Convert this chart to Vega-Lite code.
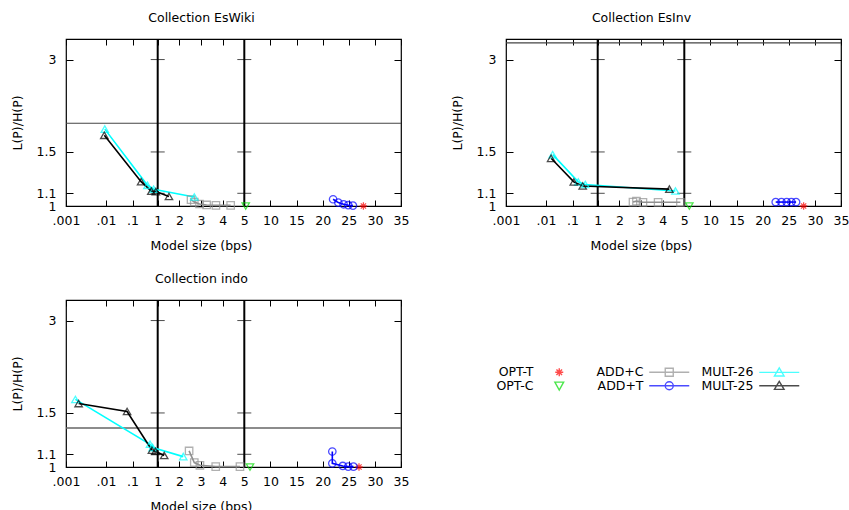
{
  "$schema": "https://vega.github.io/schema/vega-lite/v6.json",
  "padding": {"left": 10, "top": 10, "right": 0, "bottom": 0},
  "datasets": {
    "pts": [
      {"panel": "EsWiki", "series": "OPT-T", "x": 27.8, "y": 1.0},
      {"panel": "EsWiki", "series": "OPT-C", "x": 5.27, "y": 1.0},
      {"panel": "EsWiki", "series": "ADD+C", "x": 2.54, "y": 1.049},
      {"panel": "EsWiki", "series": "ADD+C", "x": 2.69, "y": 1.03},
      {"panel": "EsWiki", "series": "ADD+C", "x": 2.93, "y": 1.015},
      {"panel": "EsWiki", "series": "ADD+C", "x": 3.26, "y": 1.008},
      {"panel": "EsWiki", "series": "ADD+C", "x": 3.69, "y": 1.005},
      {"panel": "EsWiki", "series": "ADD+C", "x": 4.37, "y": 1.005},
      {"panel": "EsWiki", "series": "ADD+T", "x": 22.0, "y": 1.052},
      {"panel": "EsWiki", "series": "ADD+T", "x": 23.0, "y": 1.026},
      {"panel": "EsWiki", "series": "ADD+T", "x": 24.0, "y": 1.013},
      {"panel": "EsWiki", "series": "ADD+T", "x": 24.9, "y": 1.006},
      {"panel": "EsWiki", "series": "ADD+T", "x": 25.8, "y": 1.003},
      {"panel": "EsWiki", "series": "MULT-26", "x": 0.0095, "y": 1.78},
      {"panel": "EsWiki", "series": "MULT-26", "x": 0.42, "y": 1.168},
      {"panel": "EsWiki", "series": "MULT-26", "x": 0.73, "y": 1.134},
      {"panel": "EsWiki", "series": "MULT-26", "x": 2.69, "y": 1.07},
      {"panel": "EsWiki", "series": "MULT-25", "x": 0.0093, "y": 1.70},
      {"panel": "EsWiki", "series": "MULT-25", "x": 0.23, "y": 1.20},
      {"panel": "EsWiki", "series": "MULT-25", "x": 0.58, "y": 1.118},
      {"panel": "EsWiki", "series": "MULT-25", "x": 0.88, "y": 1.114},
      {"panel": "EsWiki", "series": "MULT-25", "x": 1.52, "y": 1.074},
      {"panel": "EsInv", "series": "OPT-T", "x": 27.84, "y": 1.0},
      {"panel": "EsInv", "series": "OPT-C", "x": 5.96, "y": 1.0},
      {"panel": "EsInv", "series": "ADD+C", "x": 2.63, "y": 1.03},
      {"panel": "EsInv", "series": "ADD+C", "x": 2.79, "y": 1.037},
      {"panel": "EsInv", "series": "ADD+C", "x": 3.09, "y": 1.028},
      {"panel": "EsInv", "series": "ADD+C", "x": 3.79, "y": 1.028},
      {"panel": "EsInv", "series": "ADD+C", "x": 4.82, "y": 1.028},
      {"panel": "EsInv", "series": "ADD+T", "x": 22.5, "y": 1.03},
      {"panel": "EsInv", "series": "ADD+T", "x": 23.6, "y": 1.03},
      {"panel": "EsInv", "series": "ADD+T", "x": 24.6, "y": 1.03},
      {"panel": "EsInv", "series": "ADD+T", "x": 25.5, "y": 1.03},
      {"panel": "EsInv", "series": "ADD+T", "x": 26.4, "y": 1.03},
      {"panel": "EsInv", "series": "MULT-26", "x": 0.0184, "y": 1.47},
      {"panel": "EsInv", "series": "MULT-26", "x": 0.176, "y": 1.198},
      {"panel": "EsInv", "series": "MULT-26", "x": 0.356, "y": 1.175},
      {"panel": "EsInv", "series": "MULT-26", "x": 4.59, "y": 1.119},
      {"panel": "EsInv", "series": "MULT-25", "x": 0.0164, "y": 1.43},
      {"panel": "EsInv", "series": "MULT-25", "x": 0.117, "y": 1.198},
      {"panel": "EsInv", "series": "MULT-25", "x": 0.278, "y": 1.162},
      {"panel": "EsInv", "series": "MULT-25", "x": 4.31, "y": 1.135},
      {"panel": "indo", "series": "OPT-T", "x": 26.96, "y": 1.0},
      {"panel": "indo", "series": "OPT-C", "x": 6.09, "y": 1.0},
      {"panel": "indo", "series": "ADD+C", "x": 2.45, "y": 1.128},
      {"panel": "indo", "series": "ADD+C", "x": 2.69, "y": 1.034},
      {"panel": "indo", "series": "ADD+C", "x": 2.95, "y": 1.013},
      {"panel": "indo", "series": "ADD+C", "x": 3.68, "y": 1.003},
      {"panel": "indo", "series": "ADD+C", "x": 4.8, "y": 1.003},
      {"panel": "indo", "series": "ADD+T", "x": 21.85, "y": 1.123},
      {"panel": "indo", "series": "ADD+T", "x": 21.85, "y": 1.028},
      {"panel": "indo", "series": "ADD+T", "x": 23.85, "y": 1.008},
      {"panel": "indo", "series": "ADD+T", "x": 24.9, "y": 1.003},
      {"panel": "indo", "series": "ADD+T", "x": 25.9, "y": 1.003},
      {"panel": "indo", "series": "MULT-26", "x": 0.00178, "y": 1.66},
      {"panel": "indo", "series": "MULT-26", "x": 0.497, "y": 1.186},
      {"panel": "indo", "series": "MULT-26", "x": 0.668, "y": 1.157},
      {"panel": "indo", "series": "MULT-26", "x": 2.18, "y": 1.081},
      {"panel": "indo", "series": "MULT-25", "x": 0.00211, "y": 1.61},
      {"panel": "indo", "series": "MULT-25", "x": 0.066, "y": 1.517},
      {"panel": "indo", "series": "MULT-25", "x": 0.62, "y": 1.134},
      {"panel": "indo", "series": "MULT-25", "x": 0.85, "y": 1.125},
      {"panel": "indo", "series": "MULT-25", "x": 1.30, "y": 1.09}
    ],
    "refs": [
      {"panel": "EsWiki", "y": 1.86},
      {"panel": "EsInv", "y": 3.4},
      {"panel": "indo", "y": 1.34}
    ],
    "seps": [{"x": 1}, {"x": 5}],
    "septicks": [
      {"x": 1, "y": 1.1}, {"x": 1, "y": 1.5}, {"x": 1, "y": 3},
      {"x": 5, "y": 1.1}, {"x": 5, "y": 1.5}, {"x": 5, "y": 3}
    ]
  },
  "vconcat": [
    {
      "hconcat": [
        {
          "width": 335, "height": 167,
          "title": {"text": "Collection EsWiki", "frame": "group", "dx": -32, "offset": 14},
          "layer": [
            {"data": {"name": "refs"}, "transform": [{"filter": "datum.panel === 'EsWiki'"}],
             "mark": {"type": "rule", "color": "#444", "strokeWidth": 1.2},
             "encoding": {"y": {"field": "y", "type": "quantitative", "scale": {"type": "log", "domain": [1, 3.5], "nice": false},
               "axis": {"orient": "left", "values": [1, 1.1, 1.5, 3], "format": "~g", "title": "L(P)/H(P)", "tickSize": -7, "labelPadding": 17, "titlePadding": 12}}}},
            {"data": {"name": "seps"},
             "mark": {"type": "rule", "color": "black", "strokeWidth": 2},
             "encoding": {"x": {"field": "x", "type": "quantitative", "scale": {"type": "linear", "nice": false, "zero": false, "domain": [0.001, 0.002, 0.005, 0.01, 0.02, 0.05, 0.1, 0.2, 0.5, 1, 5, 35], "range": [0, 12.04, 27.96, 40, 47.98, 58.52, 66.5, 74.09, 84.11, 91.7, 178.3, 335]},
               "axis": {"orient": "top", "values": [0.001, 0.01, 0.1, 1, 2, 3, 4, 5, 10, 15, 20, 25, 30, 35], "labels": false, "title": null, "tickSize": -6}}}},
            {"data": {"name": "septicks"},
             "mark": {"type": "tick", "orient": "horizontal", "size": 14, "thickness": 1, "color": "black"},
             "encoding": {"x": {"field": "x", "type": "quantitative", "axis": null},
               "y": {"field": "y", "type": "quantitative", "axis": {"orient": "right", "values": [1, 1.1, 1.5, 3], "labels": false, "title": null, "tickSize": -7}}}},
            {"data": {"name": "pts"}, "transform": [{"filter": "datum.panel === 'EsWiki'"}],
             "mark": {"type": "line", "strokeWidth": 1.6},
             "encoding": {
               "x": {"field": "x", "type": "quantitative", "axis": {"orient": "bottom", "values": [0.001, 0.01, 0.1, 1, 2, 3, 4, 5, 10, 15, 20, 25, 30, 35], "labelExpr": "datum.value < 1 ? slice(format(datum.value, '~g'), 1) : format(datum.value, '~g')", "title": "Model size (bps)", "titleX": 135, "tickSize": -6, "labelPadding": 14, "labelFlush": false, "labelOverlap": false, "titlePadding": 13}},
               "y": {"field": "y", "type": "quantitative", "axis": null},
               "color": {"field": "series", "type": "nominal", "scale": {"domain": ["OPT-T", "ADD+C", "MULT-26", "OPT-C", "ADD+T", "MULT-25"], "range": ["#ff0000", "#909090", "#00ffff", "#00dd00", "#0000ff", "#000000"]}}
             }},
            {"data": {"name": "pts"}, "transform": [{"filter": "datum.panel === 'EsWiki'"}],
             "mark": {"type": "point", "filled": false, "size": 55, "strokeWidth": 1.3,
               "shape": {"expr": "datum.series === 'OPT-T' ? 'M0,-1V1M-1,0H1M-0.7,-0.7L0.7,0.7M-0.7,0.7L0.7,-0.7' : datum.series === 'OPT-C' ? 'triangle-down' : datum.series === 'ADD+C' ? 'square' : datum.series === 'ADD+T' ? 'circle' : 'triangle-up'"}},
             "encoding": {
               "x": {"field": "x", "type": "quantitative", "axis": null},
               "y": {"field": "y", "type": "quantitative", "axis": null},
               "color": {"field": "series", "type": "nominal"}
             }},
            {"data": {"name": "pts"}, "transform": [{"filter": "datum.panel === 'legend-only'"}],
             "mark": {"type": "point", "filled": false, "strokeWidth": 1.4},
             "encoding": {
               "x": {"field": "x", "type": "quantitative", "axis": null},
               "y": {"field": "y", "type": "quantitative", "axis": null},
               "color": {"field": "series", "type": "nominal",
                 "legend": {"title": null, "orient": "none", "legendX": 487, "legendY": 326.5, "direction": "horizontal", "columns": 3, "gridAlign": "all", "labelAlign": "right", "labelOffset": -32, "symbolSize": 64, "symbolStrokeWidth": 1.4, "rowPadding": -1, "columnPadding": 8, "labelFontSize": 12.5, "labelColor": "black"}},
               "shape": {"field": "series", "type": "nominal",
                 "scale": {"domain": ["OPT-T", "ADD+C", "MULT-26", "OPT-C", "ADD+T", "MULT-25"], "range": ["M0,-1V1M-1,0H1M-0.7,-0.7L0.7,0.7M-0.7,0.7L0.7,-0.7", "M-5,0H5M-1,-1H1V1H-1Z", "M-5,0H5M0,-1.1L1.2,0.9H-1.2Z", "M-1.1,-0.9H1.1L0,1.1Z", "M-5,0H5M1,0A1,1,0,1,1,-1,0A1,1,0,1,1,1,0", "M-5,0H5M0,-1.1L1.2,0.9H-1.2Z"]},
                 "legend": {"title": null, "orient": "none", "legendX": 487, "legendY": 326.5, "direction": "horizontal", "columns": 3, "gridAlign": "all", "labelAlign": "right", "labelOffset": -32, "symbolSize": 64, "symbolStrokeWidth": 1.4, "rowPadding": -1, "columnPadding": 8, "labelFontSize": 12.5, "labelColor": "black"}}
             }}
          ],
          "resolve": {"axis": {"x": "independent", "y": "independent"}}
        },
        {
          "width": 335, "height": 167,
          "title": {"text": "Collection EsInv", "frame": "group", "dx": -32, "offset": 14},
          "layer": [
            {"data": {"name": "refs"}, "transform": [{"filter": "datum.panel === 'EsInv'"}],
             "mark": {"type": "rule", "color": "#444", "strokeWidth": 1.2},
             "encoding": {"y": {"field": "y", "type": "quantitative", "scale": {"type": "log", "domain": [1, 3.5], "nice": false},
               "axis": {"orient": "left", "values": [1, 1.1, 1.5, 3], "format": "~g", "title": "L(P)/H(P)", "tickSize": -7, "labelPadding": 17, "titlePadding": 12}}}},
            {"data": {"name": "seps"},
             "mark": {"type": "rule", "color": "black", "strokeWidth": 2},
             "encoding": {"x": {"field": "x", "type": "quantitative", "scale": {"type": "linear", "nice": false, "zero": false, "domain": [0.001, 0.002, 0.005, 0.01, 0.02, 0.05, 0.1, 0.2, 0.5, 1, 5, 35], "range": [0, 12.04, 27.96, 40, 47.98, 58.52, 66.5, 74.09, 84.11, 91.7, 178.3, 335]},
               "axis": {"orient": "top", "values": [0.001, 0.01, 0.1, 1, 2, 3, 4, 5, 10, 15, 20, 25, 30, 35], "labels": false, "title": null, "tickSize": -6}}}},
            {"data": {"name": "septicks"},
             "mark": {"type": "tick", "orient": "horizontal", "size": 14, "thickness": 1, "color": "black"},
             "encoding": {"x": {"field": "x", "type": "quantitative", "axis": null},
               "y": {"field": "y", "type": "quantitative", "axis": {"orient": "right", "values": [1, 1.1, 1.5, 3], "labels": false, "title": null, "tickSize": -7}}}},
            {"data": {"name": "pts"}, "transform": [{"filter": "datum.panel === 'EsInv'"}],
             "mark": {"type": "line", "strokeWidth": 1.6},
             "encoding": {
               "x": {"field": "x", "type": "quantitative", "axis": {"orient": "bottom", "values": [0.001, 0.01, 0.1, 1, 2, 3, 4, 5, 10, 15, 20, 25, 30, 35], "labelExpr": "datum.value < 1 ? slice(format(datum.value, '~g'), 1) : format(datum.value, '~g')", "title": "Model size (bps)", "titleX": 135, "tickSize": -6, "labelPadding": 14, "labelFlush": false, "labelOverlap": false, "titlePadding": 13}},
               "y": {"field": "y", "type": "quantitative", "axis": null},
               "color": {"field": "series", "type": "nominal"}
             }},
            {"data": {"name": "pts"}, "transform": [{"filter": "datum.panel === 'EsInv'"}],
             "mark": {"type": "point", "filled": false, "size": 55, "strokeWidth": 1.3,
               "shape": {"expr": "datum.series === 'OPT-T' ? 'M0,-1V1M-1,0H1M-0.7,-0.7L0.7,0.7M-0.7,0.7L0.7,-0.7' : datum.series === 'OPT-C' ? 'triangle-down' : datum.series === 'ADD+C' ? 'square' : datum.series === 'ADD+T' ? 'circle' : 'triangle-up'"}},
             "encoding": {
               "x": {"field": "x", "type": "quantitative", "axis": null},
               "y": {"field": "y", "type": "quantitative", "axis": null},
               "color": {"field": "series", "type": "nominal"}
             }}
          ],
          "resolve": {"axis": {"x": "independent", "y": "independent"}}
        }
      ],
      "spacing": 40
    },
    {
      "width": 335, "height": 167,
      "title": {"text": "Collection indo", "frame": "group", "dx": -32, "offset": 14},
      "layer": [
        {"data": {"name": "refs"}, "transform": [{"filter": "datum.panel === 'indo'"}],
         "mark": {"type": "rule", "color": "#666", "strokeWidth": 1.5},
         "encoding": {"y": {"field": "y", "type": "quantitative", "scale": {"type": "log", "domain": [1, 3.5], "nice": false},
           "axis": {"orient": "left", "values": [1, 1.1, 1.5, 3], "format": "~g", "title": "L(P)/H(P)", "tickSize": -7, "labelPadding": 17, "titlePadding": 12}}}},
        {"data": {"name": "seps"},
         "mark": {"type": "rule", "color": "black", "strokeWidth": 2},
         "encoding": {"x": {"field": "x", "type": "quantitative", "scale": {"type": "linear", "nice": false, "zero": false, "domain": [0.001, 0.002, 0.005, 0.01, 0.02, 0.05, 0.1, 0.2, 0.5, 1, 5, 35], "range": [0, 12.04, 27.96, 40, 47.98, 58.52, 66.5, 74.09, 84.11, 91.7, 178.3, 335]},
           "axis": {"orient": "top", "values": [0.001, 0.01, 0.1, 1, 2, 3, 4, 5, 10, 15, 20, 25, 30, 35], "labels": false, "title": null, "tickSize": -6}}}},
        {"data": {"name": "septicks"},
         "mark": {"type": "tick", "orient": "horizontal", "size": 14, "thickness": 1, "color": "black"},
         "encoding": {"x": {"field": "x", "type": "quantitative", "axis": null},
           "y": {"field": "y", "type": "quantitative", "axis": {"orient": "right", "values": [1, 1.1, 1.5, 3], "labels": false, "title": null, "tickSize": -7}}}},
        {"data": {"name": "pts"}, "transform": [{"filter": "datum.panel === 'indo'"}],
         "mark": {"type": "line", "strokeWidth": 1.6},
         "encoding": {
           "x": {"field": "x", "type": "quantitative", "axis": {"orient": "bottom", "values": [0.001, 0.01, 0.1, 1, 2, 3, 4, 5, 10, 15, 20, 25, 30, 35], "labelExpr": "datum.value < 1 ? slice(format(datum.value, '~g'), 1) : format(datum.value, '~g')", "title": "Model size (bps)", "titleX": 135, "tickSize": -6, "labelPadding": 14, "labelFlush": false, "labelOverlap": false, "titlePadding": 13}},
           "y": {"field": "y", "type": "quantitative", "axis": null},
           "color": {"field": "series", "type": "nominal"}
         }},
        {"data": {"name": "pts"}, "transform": [{"filter": "datum.panel === 'indo'"}],
         "mark": {"type": "point", "filled": false, "size": 55, "strokeWidth": 1.3,
           "shape": {"expr": "datum.series === 'OPT-T' ? 'M0,-1V1M-1,0H1M-0.7,-0.7L0.7,0.7M-0.7,0.7L0.7,-0.7' : datum.series === 'OPT-C' ? 'triangle-down' : datum.series === 'ADD+C' ? 'square' : datum.series === 'ADD+T' ? 'circle' : 'triangle-up'"}},
         "encoding": {
           "x": {"field": "x", "type": "quantitative", "axis": null},
           "y": {"field": "y", "type": "quantitative", "axis": null},
           "color": {"field": "series", "type": "nominal"}
         }}
      ],
      "resolve": {"axis": {"x": "independent", "y": "independent"}}
    }
  ],
  "spacing": 18,
  "config": {
    "font": "DejaVu Sans",
    "view": {"stroke": "black", "strokeWidth": 1.2},
    "axis": {"grid": false, "domain": false, "tickColor": "black", "labelFontSize": 12.5, "titleFontSize": 12.5, "labelColor": "black", "titleColor": "black", "titleFontWeight": "normal"},
    "title": {"fontSize": 12.5, "fontWeight": "normal", "color": "black"}
  }
}
